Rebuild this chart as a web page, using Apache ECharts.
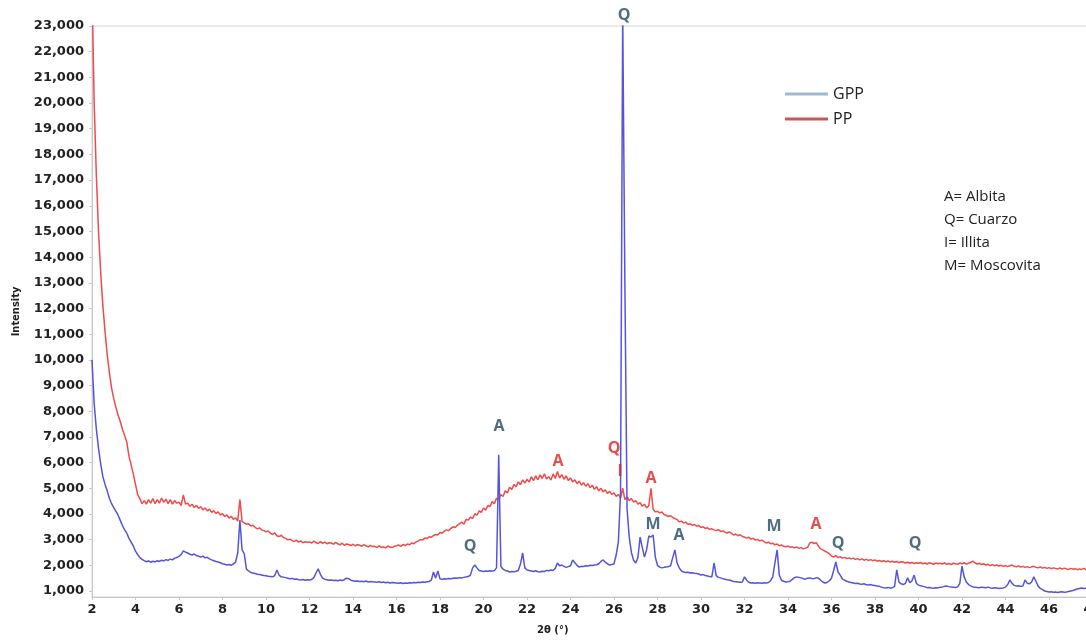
<!DOCTYPE html>
<html>
<head>
<meta charset="utf-8">
<script src="https://cdn.jsdelivr.net/npm/echarts@6/dist/echarts.min.js"></script>
<style>
  html, body { margin: 0; padding: 0; background: #ffffff; }
  #chart { width: 1086px; height: 643px; }
</style>
</head>
<body>
<div id="chart"></div>
<script>
// Scan grid: 2θ from 2.0° in steps of 0.1°
const angleStart = 2.0;
const angleStep = 0.1;

// PP intensity (counts), one row per degree
const ppCounts = [
  24500, 20000, 17200, 15000, 13400, 12100, 11100, 10200, 9500, 8900,
  8500, 8150, 7850, 7600, 7300, 7050, 6800, 6250, 5900, 5550,
  5150, 4750, 4600, 4400, 4520, 4380, 4560, 4420, 4600, 4400,
  4560, 4420, 4620, 4450, 4580, 4400, 4560, 4380, 4520, 4420,
  4460, 4330, 4740, 4380, 4420, 4300, 4380, 4250, 4330, 4220,
  4280, 4160, 4230, 4120, 4190, 4060, 4130, 4020, 4080, 3960,
  4010, 3900, 3960, 3840, 3910, 3790, 3850, 3720, 4560, 3700,
  3650, 3600, 3620, 3530, 3560, 3480, 3420, 3460, 3380, 3350,
  3300, 3340, 3250, 3200, 3260, 3150, 3120, 3170, 3080, 3050,
  2990, 3020, 2960, 2930, 2980, 2900, 2950, 2880, 2920, 2900,
  2910, 2870, 2940, 2880, 2850, 2920, 2860, 2900, 2840, 2880,
  2870, 2820, 2890, 2840, 2800, 2860, 2780, 2830, 2810, 2770,
  2820, 2760, 2800, 2790, 2740, 2810, 2750, 2720, 2780, 2730,
  2740, 2700, 2760, 2690, 2720, 2680, 2750, 2710, 2690, 2740,
  2760, 2790, 2740, 2810, 2770, 2830, 2800, 2870, 2840, 2910,
  2950, 3000, 2980, 3060, 3040, 3110, 3090, 3160, 3200, 3180,
  3280, 3250, 3330, 3380, 3350, 3440, 3500, 3470, 3560, 3620,
  3680, 3600, 3790, 3760, 3880, 3820, 4010, 3950, 4120, 4060,
  4230, 4150, 4330, 4290, 4480, 4400, 4620, 4560, 4760, 4680,
  4900, 4820, 5040, 4950, 5150, 5060, 5250, 5140, 5330, 5200,
  5350, 5240, 5450, 5300, 5480, 5330, 5520, 5380, 5560, 5360,
  5450, 5320, 5560, 5380, 5650, 5400, 5530, 5350, 5480, 5300,
  5400, 5250, 5330, 5180, 5280, 5120, 5220, 5080, 5180, 5020,
  5120, 4960, 5060, 4900, 5000, 4860, 4940, 4800, 4880, 4760,
  4820, 4680, 4760, 4620, 5000, 4560, 4660, 4520, 4600, 4460,
  4520, 4380, 4440, 4300, 4380, 4240, 4320, 5000, 4180, 4080,
  4100, 4040, 4080, 3980, 3950, 3900, 3930, 3860, 3820, 3780,
  3690, 3720, 3650, 3680, 3600, 3620, 3560, 3590, 3520, 3550,
  3470, 3500, 3440, 3460, 3400, 3420, 3380, 3350, 3390, 3320,
  3340, 3290, 3260, 3300, 3240, 3180, 3220, 3150, 3190, 3120,
  3100, 3060, 3090, 3020, 3050, 2980, 3010, 2950, 2980, 2920,
  2870, 2900, 2840, 2860, 2800, 2830, 2760, 2790, 2740, 2720,
  2750, 2700, 2720, 2680, 2710, 2660, 2690, 2640, 2670, 2700,
  2870, 2900, 2850, 2880, 2750, 2640, 2600, 2550, 2500, 2450,
  2360, 2320, 2380, 2300, 2340, 2280, 2310, 2260, 2290, 2250,
  2280, 2230, 2260, 2210, 2250, 2200, 2230, 2190, 2220, 2180,
  2210, 2160, 2190, 2150, 2180, 2140, 2170, 2130, 2160, 2120,
  2150, 2100, 2140, 2130, 2090, 2120, 2080, 2110, 2070, 2100,
  2080, 2110, 2060, 2090, 2050, 2100, 2070, 2040, 2090, 2060,
  2080, 2050, 2100, 2040, 2070, 2030, 2080, 2060, 2040, 2090,
  2060, 2100, 2050, 2080, 2120, 2160, 2090, 2050, 2080, 2030,
  2060, 2010, 2040, 1990, 2030, 1980, 2010, 1970, 2000, 1960,
  1990, 1950, 1980, 2010, 1960, 1940, 1980, 1930, 1960, 1920,
  1950, 1910, 1940, 1960, 1920, 1900, 1940, 1890, 1920, 1880,
  1910, 1870, 1900, 1880, 1860, 1900, 1850, 1890, 1860, 1840,
  1880, 1850, 1870, 1830, 1860, 1840, 1880, 1830, 1850, 1820,
  1860, 1830, 1850, 1820, 1840
];

// GPP intensity (counts), one row per degree
const gppCounts = [
  10000, 8300, 7300, 6550, 5950, 5450, 5150, 4900, 4600, 4400,
  4250, 4100, 3950, 3750, 3550, 3380, 3250, 3050, 2900, 2750,
  2550, 2420, 2300, 2230, 2180, 2140, 2170, 2120, 2160, 2130,
  2180, 2150, 2200, 2170, 2220, 2190, 2240, 2210, 2280, 2300,
  2350, 2420, 2560, 2510, 2480, 2430, 2400, 2440, 2380, 2350,
  2320, 2360, 2290, 2310, 2250, 2210, 2180, 2150, 2130, 2100,
  2060, 2040, 2010, 2030, 2000, 2060, 2120, 2480, 3760, 2600,
  2450, 1850, 1780, 1720, 1700, 1680, 1650, 1640, 1620, 1600,
  1590, 1570, 1560, 1550, 1600, 1820, 1620, 1550, 1540, 1520,
  1500, 1480, 1490, 1460, 1470, 1440, 1430, 1450, 1420, 1440,
  1430, 1450, 1520, 1700, 1860, 1650, 1500, 1460, 1440, 1420,
  1430, 1410, 1420, 1400, 1430, 1410, 1440, 1500, 1480, 1420,
  1400, 1380, 1390, 1370, 1380, 1360, 1390, 1350, 1370, 1360,
  1350, 1340, 1360, 1330, 1350, 1320, 1340, 1310, 1330, 1320,
  1310, 1300, 1320, 1290, 1310, 1300, 1320, 1310, 1330, 1320,
  1340, 1330, 1350, 1340, 1360, 1370, 1420, 1740, 1500, 1780,
  1470, 1460, 1480, 1470, 1490, 1480, 1500, 1510, 1500, 1520,
  1510, 1530, 1550, 1560, 1620, 1900, 2010, 1900, 1800, 1780,
  1760, 1780, 1770, 1790, 1780, 1800, 1900, 6300, 1950, 1850,
  1800, 1780, 1740, 1760, 1750, 1770, 1800, 2050, 2480, 1900,
  1820, 1800, 1780, 1760, 1790, 1750, 1740, 1770, 1760, 1800,
  1790, 1820, 1800, 1880, 2090, 1980, 2010, 1960, 1920, 1950,
  1980, 2210, 2100, 2000, 1930, 1960, 1950, 1980, 1970, 2000,
  1990, 2010, 2020, 2060, 2150, 2210, 2120, 2060, 2010, 2030,
  2060, 2400, 2900, 4800, 23500, 13000, 4200, 3100, 2500, 2200,
  2090, 2300, 3100, 2700, 2320, 2600, 3140, 3100, 3180, 2320,
  2000, 1930, 1900, 1920, 1930, 1950, 1980, 2300, 2600, 2090,
  1900, 1780, 1740, 1720, 1730, 1700, 1710, 1690, 1680, 1660,
  1620, 1640, 1600, 1580, 1560, 1550, 2090, 1600, 1530, 1510,
  1480, 1460, 1440, 1430, 1400, 1370, 1360, 1350, 1340, 1350,
  1550, 1420, 1340, 1310, 1320, 1300, 1320, 1310, 1300, 1320,
  1310, 1330, 1400, 1550, 2100, 2600, 1620, 1420, 1380, 1350,
  1360, 1380, 1450, 1520, 1550, 1530, 1510, 1480, 1460, 1500,
  1510, 1490, 1480, 1520, 1500, 1420, 1350, 1310, 1330, 1400,
  1500, 1800, 2130, 1740, 1620, 1470, 1420, 1380, 1350, 1330,
  1310, 1290, 1300, 1270, 1260, 1280, 1240, 1230, 1250, 1220,
  1210, 1190, 1180, 1150, 1130, 1120, 1140, 1110, 1130, 1180,
  1820, 1350, 1280, 1250, 1300, 1510, 1320, 1400, 1620, 1300,
  1230, 1200, 1180, 1160, 1130, 1140, 1120, 1110, 1130, 1120,
  1150, 1160, 1180, 1190, 1170, 1160, 1150, 1140, 1160, 1300,
  1970, 1550, 1350, 1250, 1200, 1160, 1150, 1140, 1130, 1150,
  1140, 1130, 1150, 1120, 1110, 1130, 1120, 1100, 1110, 1120,
  1150, 1250, 1430, 1300, 1220, 1190, 1200, 1180, 1190, 1430,
  1300, 1280, 1350, 1550, 1380, 1190, 1100, 1050, 1000, 980,
  960, 970, 950, 960, 940, 960, 970, 950, 960, 980,
  1000, 1020, 1050, 1080, 1100, 1120, 1100, 1110, 1120, 1100,
  1110, 1120, 1100, 1110, 1120
];

// Phase marks: [2θ, intensity where the letter sits, letter, phase group]
const peakMarks = [
  [26.46, 23400, 'Q', 'blue'],
  [20.71, 7425, 'A', 'blue'],
  [19.38, 2750, 'Q', 'blue'],
  [23.43, 6060, 'A', 'red'],
  [26.00, 6570, 'Q', 'red'],
  [26.28, 5670, 'I', 'red'],
  [27.70, 5400, 'A', 'red'],
  [27.79, 3610, 'M', 'blue'],
  [28.99, 3180, 'A', 'blue'],
  [33.36, 3530, 'M', 'blue'],
  [35.29, 3610, 'A', 'red'],
  [36.30, 2870, 'Q', 'blue'],
  [39.84, 2870, 'Q', 'blue']
];

// Phase key
const phaseKey = ['A= Albita', 'Q= Cuarzo', 'I= Illita', 'M= Moscovita'];

// Intensity tick labels
const intensityTicks = [1000, 2000, 3000, 4000, 5000, 6000, 7000, 8000, 9000, 10000, 11000, 12000,
  13000, 14000, 15000, 16000, 17000, 18000, 19000, 20000, 21000, 22000, 23000];

const toPairs = (arr) => arr.map((v, i) => [+(angleStart + i * angleStep).toFixed(1), v]);

const markColors = { blue: '#234862', red: '#e02020' };
const axisFont = { fontFamily: 'DejaVu Sans', fontWeight: 'bold', fontSize: 13, color: '#222' };

const chart = echarts.init(document.getElementById('chart'), null, { renderer: 'canvas' });

chart.setOption({
  animation: false,
  backgroundColor: '#ffffff',
  grid: {
    left: 92, top: 26, bottom: 46, width: 1044,
    outerBoundsMode: 'none', containLabel: false,
    show: true, borderColor: '#d4d4d4', borderWidth: 1
  },
  legend: {
    orient: 'vertical',
    left: 780, top: 80,
    icon: 'rect',
    itemWidth: 43, itemHeight: 3, itemGap: 7,
    textStyle: { fontFamily: 'Open Sans', fontSize: 16, color: '#222', lineHeight: 18 },
    selectedMode: false,
    data: [
      { name: 'GPP', itemStyle: { color: '#9db8d4' } },
      { name: 'PP', itemStyle: { color: '#c9575a' } }
    ]
  },
  xAxis: {
    type: 'value', min: 2, max: 50, interval: 2,
    axisLine: { show: true, lineStyle: { color: '#c8c8c8' } },
    axisTick: { show: true, length: 3, lineStyle: { color: '#c8c8c8' } },
    axisLabel: Object.assign({ margin: 6 }, axisFont),
    splitLine: { show: false }
  },
  yAxis: {
    type: 'value', min: 766, max: 23000,
    name: 'Intensity', nameLocation: 'middle', nameRotate: 90, nameGap: 70,
    nameTextStyle: {
      fontFamily: "'Liberation Sans Narrow', 'DejaVu Sans Condensed', 'Liberation Sans', sans-serif",
      fontWeight: 'bold', fontSize: 11, color: '#222'
    },
    axisLine: { show: true, lineStyle: { color: '#c8c8c8' } },
    axisTick: { show: true, length: 3, customValues: intensityTicks, lineStyle: { color: '#c8c8c8' } },
    axisLabel: Object.assign({
      margin: 8, customValues: intensityTicks,
      formatter: (v) => Number(v).toLocaleString('en-US')
    }, axisFont),
    splitLine: { show: false }
  },
  series: [
    {
      name: 'PP', type: 'line', data: toPairs(ppCounts),
      showSymbol: false, symbol: 'none', sampling: 'none', clip: true, z: 2,
      lineStyle: { color: '#f04a4a', width: 1.5 }, itemStyle: { color: '#f04a4a' }
    },
    {
      name: 'GPP', type: 'line', data: toPairs(gppCounts),
      showSymbol: false, symbol: 'none', sampling: 'none', clip: true, z: 3,
      lineStyle: { color: '#5454dc', width: 1.5 }, itemStyle: { color: '#5454dc' }
    },
    {
      name: 'phases', type: 'scatter', symbolSize: 0, clip: false, silent: true, z: 5,
      data: peakMarks.map((m) => ({
        value: [m[0], m[1]],
        label: {
          show: true, position: 'inside', formatter: m[2],
          color: markColors[m[3]], fontFamily: 'Open Sans', fontWeight: 'bold', fontSize: 16
        }
      }))
    }
  ],
  graphic: [
    {
      type: 'text', left: 537, top: 625,
      style: { text: '2θ (°)', fontFamily: 'DejaVu Sans', fontWeight: 'bold', fontSize: 10, fill: '#222' }
    },
    {
      type: 'group', left: 944, top: 189,
      children: phaseKey.map((t, i) => ({
        type: 'text', y: i * 23.2,
        style: { text: t, fontFamily: 'Open Sans', fontSize: 15, fill: '#222' }
      }))
    }
  ]
});
</script>
</body>
</html>
